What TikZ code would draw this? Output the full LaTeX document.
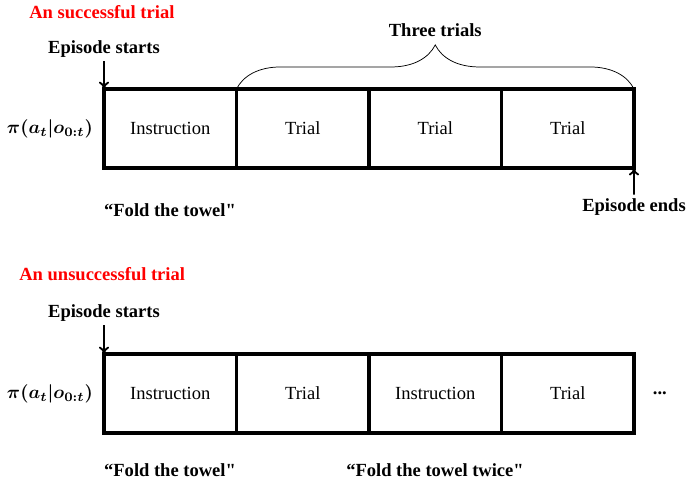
\documentclass[tikz,border=0pt]{standalone}
\usepackage{fontspec}
\setmainfont{Liberation Serif}
\newfontfamily\rawserif{Liberation Serif} % no TeX ligatures: straight quote
\usepackage{amsmath}
\usetikzlibrary{positioning, decorations.pathreplacing, arrows.meta}

\newcommand{\sq}{{\rawserif\bfseries"}}

\begin{document}
\begin{tikzpicture}[
    x=0.54pt, y=-0.54pt,
    node distance=0pt, % cells touch each other
    cell/.style={rectangle, draw, line width=2.1pt, minimum width=71.55pt, minimum height=42.7pt, outer sep=0pt, inner sep=0pt},
    heading/.style={font=\bfseries, text=red, anchor=west, inner sep=0pt},
    boldtxt/.style={font=\bfseries, inner sep=2pt},
    pointer/.style={draw, -{To[length=4pt, width=5.5pt]}, line width=1pt}
]
    \useasboundingbox (0,0) rectangle (687,489);

    % Successful trial
    \node [heading] (succ) at (29,12) {An successful trial};
    \node [cell, anchor=north west] (ins1) at (104,89) {Instruction};
    \node [cell, right=of ins1] (tri1) {Trial};
    \node [cell, right=of tri1] (tri2) {Trial};
    \node [cell, right=of tri2] (tri3) {Trial};
    \node [boldtxt, anchor=east] (pol1) at (97,129) {$\boldsymbol{\pi(a_t\vert o_{0:t})}$};

    \node [boldtxt] (start1) at (104,49) {Episode starts};
    \draw [pointer] (start1) -- (ins1.north west);
    \node [boldtxt] (end1) at (634,207) {Episode ends};
    \draw [pointer] (end1) -- (tri3.south east);

    % Brace over the trials
    \draw [decorate, decoration={brace, amplitude=23.8pt}, thin] (tri1.north west) -- (tri3.north east)
        node [midway, font=\bfseries, inner sep=0pt, above=28pt] (three) {Three trials};

    \node [boldtxt] (say1) at (170,210) {``Fold the towel\sq};

    % Unsuccessful trial
    \node [heading] (unsucc) at (19,274) {An unsuccessful trial};
    \node [cell, anchor=north west] (ins2) at (104,354) {Instruction};
    \node [cell, right=of ins2] (tri4) {Trial};
    \node [cell, right=of tri4] (ins3) {Instruction};
    \node [cell, right=of ins3] (tri5) {Trial};
    \node [boldtxt, anchor=east] (pol2) at (97,394) {$\boldsymbol{\pi(a_t\vert o_{0:t})}$};
    \node [boldtxt, right=8pt of tri5] (more) {...};

    \node [boldtxt] (start2) at (104,313) {Episode starts};
    \draw [pointer] (start2) -- (ins2.north west);

    \node [boldtxt] (say2) at (170,470) {``Fold the towel\sq};
    \node [boldtxt] (say3) at (435,470) {``Fold the towel twice\sq};
\end{tikzpicture}
\end{document}
